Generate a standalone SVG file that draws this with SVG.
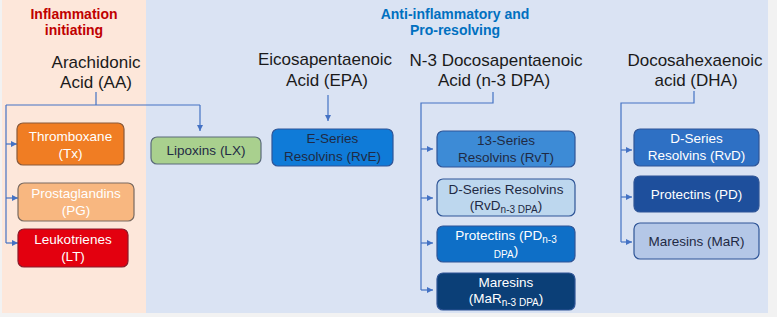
<svg xmlns="http://www.w3.org/2000/svg" width="777" height="317" viewBox="0 0 777 317">
<defs>
<marker id="ah" viewBox="0 0 8 8" refX="8" refY="4" markerWidth="6" markerHeight="6" markerUnits="userSpaceOnUse" orient="auto">
<path d="M0,0 L8,4 L0,8 z" fill="#4472c4"/>
</marker>
<style>
text{font-family:"Liberation Sans",Arial,sans-serif;text-anchor:middle}
.hd{font-size:17px;fill:#1a1a1a}
.ti{font-size:14px;font-weight:bold}
.bx{font-size:13.5px}
.w{fill:#ffffff}
.d{fill:#1f2a44}
.sub{font-size:10px}
.box{stroke-width:1.2}
.cn path{fill:none;stroke:#4472c4;stroke-width:1.2}
</style>
</defs>
<rect x="0" y="0" width="777" height="317" fill="#f2f2f2"/>
<rect x="2" y="0" width="144" height="313" fill="#fde7da"/>
<rect x="146" y="0" width="622" height="313" fill="#dae3f3"/>

<g id="titles">
<text class="ti" x="74" y="19" fill="#c00000">Inflammation</text>
<text class="ti" x="74" y="35" fill="#c00000">initiating</text>
<text class="ti" x="455" y="19" fill="#0070c0">Anti-inflammatory and</text>
<text class="ti" x="455" y="35" fill="#0070c0">Pro-resolving</text>
</g>

<g id="AA"><text class="hd" x="96" y="68">Arachidonic</text><text class="hd" x="96" y="88">Acid (AA)</text></g>
<g id="EPA"><text class="hd" x="325" y="65">Eicosapentaenoic</text><text class="hd" x="327" y="86">Acid (EPA)</text></g>
<g id="DPA"><text class="hd" x="496" y="66">N-3 Docosapentaenoic</text><text class="hd" x="494" y="86">Acid (n-3 DPA)</text></g>
<g id="DHA"><text class="hd" x="695" y="66">Docosahexaenoic</text><text class="hd" x="696" y="86">acid (DHA)</text></g>

<g class="cn" id="connectors">
<path d="M96,92 V105 M6,105 H200"/>
<path d="M200,105 V131" marker-end="url(#ah)"/>
<path d="M6,105 V243"/>
<path d="M6,144 H17" marker-end="url(#ah)"/>
<path d="M6,198 H18" marker-end="url(#ah)"/>
<path d="M6,243 H18" marker-end="url(#ah)"/>
<path d="M328,95 V121" marker-end="url(#ah)"/>
<path d="M493,92 V103 H421 V290"/>
<path d="M421,149 H433" marker-end="url(#ah)"/>
<path d="M421,198 H433" marker-end="url(#ah)"/>
<path d="M421,243 H433" marker-end="url(#ah)"/>
<path d="M421,290 H433" marker-end="url(#ah)"/>
<path d="M694,91 V103 H621 V242"/>
<path d="M621,150 H632" marker-end="url(#ah)"/>
<path d="M621,197 H632" marker-end="url(#ah)"/>
<path d="M621,242 H632" marker-end="url(#ah)"/>
</g>

<g id="Tx"><rect class="box" x="17" y="123" width="107" height="42" rx="6" fill="#f07d23" stroke="#8a5a3a"/>
<text class="bx w" x="70.5" y="141">Thromboxane</text><text class="bx w" x="70.5" y="158">(Tx)</text></g>
<g id="PG"><rect class="box" x="18" y="183" width="116" height="38" rx="6" fill="#f8b780" stroke="#7a6a60"/>
<text class="bx w" x="76" y="198">Prostaglandins</text><text class="bx w" x="76" y="215">(PG)</text></g>
<g id="LT"><rect class="box" x="18" y="229" width="110" height="38" rx="6" fill="#e3000f" stroke="#8a1a2a"/>
<text class="bx w" x="73" y="244">Leukotrienes</text><text class="bx w" x="73" y="261">(LT)</text></g>
<g id="LX"><rect class="box" x="151" y="137" width="110" height="27" rx="6" fill="#a9d08e" stroke="#5a6a7a"/>
<text class="bx d" x="206" y="155">Lipoxins (LX)</text></g>
<g id="RvE"><rect class="box" x="272" y="129" width="121" height="37" rx="6" fill="#0f7bd8" stroke="#2f5597"/>
<text class="bx d" x="332.5" y="143">E-Series</text><text class="bx d" x="332.5" y="161">Resolvins (RvE)</text></g>

<g id="RvT"><rect class="box" x="437" y="131" width="138" height="36" rx="6" fill="#3d8bd6" stroke="#2f5597"/>
<text class="bx d" x="506" y="145">13-Series</text><text class="bx d" x="506" y="162">Resolvins (RvT)</text></g>
<g id="RvDn3"><rect class="box" x="437" y="179" width="138" height="37" rx="6" fill="#bdd7ee" stroke="#2f5597"/>
<text class="bx d" x="506" y="194">D-Series Resolvins</text><text class="bx d" x="506" y="210">(RvD<tspan class="sub" dy="3">n-3 DPA</tspan><tspan dy="-3">)</tspan></text></g>
<g id="PDn3"><rect class="box" x="437" y="226" width="138" height="36" rx="6" fill="#0e6fc7" stroke="#2f5597"/>
<text class="bx w" x="506" y="240">Protectins (PD<tspan class="sub" dy="3">n-3</tspan></text><text class="bx w" x="506" y="255"><tspan class="sub" dy="3">DPA</tspan><tspan dy="-3">)</tspan></text></g>
<g id="MaRn3"><rect class="box" x="437" y="273" width="138" height="37" rx="6" fill="#0b3f77" stroke="#2f5597"/>
<text class="bx w" x="506" y="287">Maresins</text><text class="bx w" x="506" y="303">(MaR<tspan class="sub" dy="3">n-3 DPA</tspan><tspan dy="-3">)</tspan></text></g>

<g id="RvD"><rect class="box" x="634" y="129" width="125" height="37" rx="6" fill="#2e70c4" stroke="#2f5597"/>
<text class="bx w" x="696.5" y="143">D-Series</text><text class="bx w" x="696.5" y="160">Resolvins (RvD)</text></g>
<g id="PD"><rect class="box" x="634" y="176" width="125" height="36" rx="6" fill="#1e4f9c" stroke="#2f5597"/>
<text class="bx w" x="696.5" y="199">Protectins (PD)</text></g>
<g id="MaR"><rect class="box" x="634" y="223" width="125" height="36" rx="6" fill="#b4c7e7" stroke="#2f5597"/>
<text class="bx d" x="696.5" y="246">Maresins (MaR)</text></g>
</svg>
